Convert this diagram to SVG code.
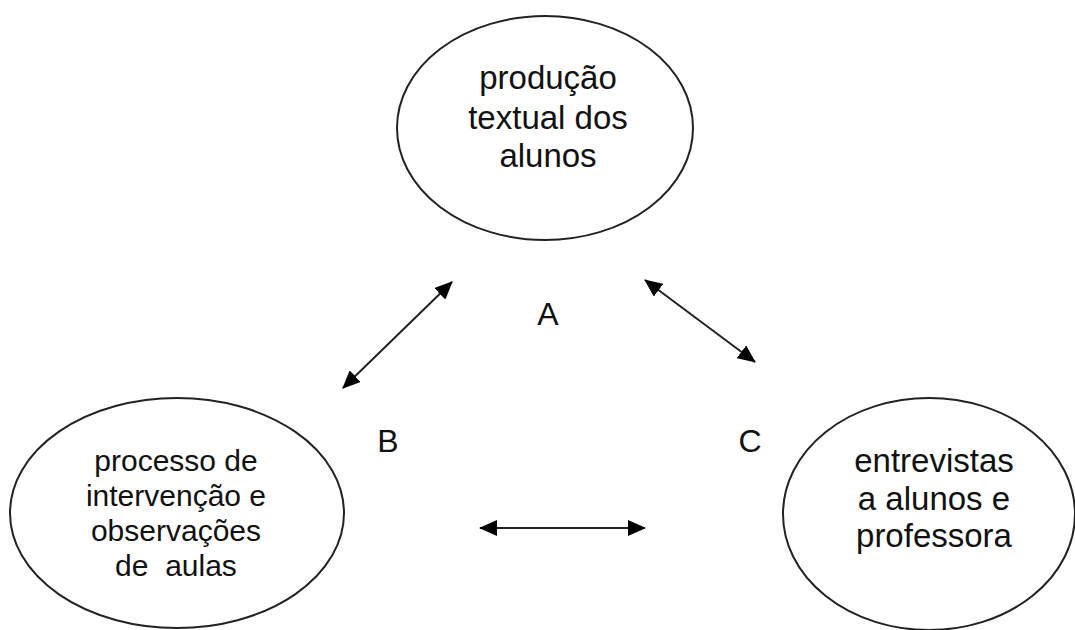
<svg xmlns="http://www.w3.org/2000/svg" width="1075" height="630" viewBox="0 0 1075 630">
<style>
.node{fill:#fff;stroke:#222;stroke-width:2}
.t{font-family:"Liberation Sans",Arial,sans-serif;fill:#111;text-anchor:middle;white-space:pre}
.edge{stroke:#222;stroke-width:2;fill:none;marker-start:url(#ah);marker-end:url(#ah)}
</style>
<defs>
<marker id="ah" viewBox="0 0 18 16" refX="17" refY="8" markerWidth="18" markerHeight="16" markerUnits="userSpaceOnUse" orient="auto-start-reverse">
<path d="M0,0 L18,8 L0,16 Z" fill="#000"/>
</marker>
</defs>
<rect width="1075" height="630" fill="#fff"/>
<g id="node-producao">
<ellipse class="node" cx="545" cy="128" rx="148" ry="112"/>
<text class="t" font-size="33"><tspan x="548" y="89">produção</tspan><tspan x="548" y="129">textual dos</tspan><tspan x="548" y="167">alunos</tspan></text>
</g>
<g id="node-processo">
<ellipse class="node" cx="177" cy="513" rx="167" ry="115"/>
<text class="t" font-size="30" xml:space="preserve"><tspan x="176" y="471">processo de</tspan><tspan x="176" y="506">intervenção e</tspan><tspan x="176" y="541">observações</tspan><tspan x="176" y="576">de  aulas</tspan></text>
</g>
<g id="node-entrevistas">
<ellipse class="node" cx="929" cy="514" rx="146" ry="116"/>
<text class="t" font-size="33"><tspan x="934" y="472">entrevistas</tspan><tspan x="934" y="510">a alunos e</tspan><tspan x="934" y="547">professora</tspan></text>
</g>
<g id="labels">
<text class="t" font-size="32" x="548" y="325">A</text>
<text class="t" font-size="32" x="388" y="452">B</text>
<text class="t" font-size="32" x="750" y="452">C</text>
</g>
<g id="connectors">
<line class="edge" x1="343" y1="388" x2="452" y2="282"/>
<line class="edge" x1="645" y1="280" x2="755" y2="362"/>
<line class="edge" x1="480" y1="528" x2="645" y2="528"/>
</g>
</svg>
